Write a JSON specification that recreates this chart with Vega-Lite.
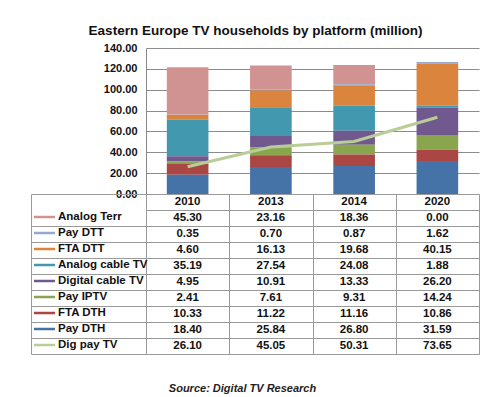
{
  "$schema": "https://vega.github.io/schema/vega-lite/v6.json",
  "background": "white",
  "padding": {"left": 30, "top": 23, "right": 5, "bottom": 2},
  "bounds": "flush",
  "config": {
    "font": "Liberation Sans",
    "view": {"stroke": null},
    "axis": {"labelFont": "Liberation Sans", "titleFont": "Liberation Sans"}
  },
  "data": {
    "values": [
      {"year": "2010", "series": "Analog Terr", "value": 45.30},
      {"year": "2010", "series": "Pay DTT", "value": 0.35},
      {"year": "2010", "series": "FTA DTT", "value": 4.60},
      {"year": "2010", "series": "Analog cable TV", "value": 35.19},
      {"year": "2010", "series": "Digital cable TV", "value": 4.95},
      {"year": "2010", "series": "Pay IPTV", "value": 2.41},
      {"year": "2010", "series": "FTA DTH", "value": 10.33},
      {"year": "2010", "series": "Pay DTH", "value": 18.40},
      {"year": "2010", "series": "Dig pay TV", "value": 26.10},
      {"year": "2013", "series": "Analog Terr", "value": 23.16},
      {"year": "2013", "series": "Pay DTT", "value": 0.70},
      {"year": "2013", "series": "FTA DTT", "value": 16.13},
      {"year": "2013", "series": "Analog cable TV", "value": 27.54},
      {"year": "2013", "series": "Digital cable TV", "value": 10.91},
      {"year": "2013", "series": "Pay IPTV", "value": 7.61},
      {"year": "2013", "series": "FTA DTH", "value": 11.22},
      {"year": "2013", "series": "Pay DTH", "value": 25.84},
      {"year": "2013", "series": "Dig pay TV", "value": 45.05},
      {"year": "2014", "series": "Analog Terr", "value": 18.36},
      {"year": "2014", "series": "Pay DTT", "value": 0.87},
      {"year": "2014", "series": "FTA DTT", "value": 19.68},
      {"year": "2014", "series": "Analog cable TV", "value": 24.08},
      {"year": "2014", "series": "Digital cable TV", "value": 13.33},
      {"year": "2014", "series": "Pay IPTV", "value": 9.31},
      {"year": "2014", "series": "FTA DTH", "value": 11.16},
      {"year": "2014", "series": "Pay DTH", "value": 26.80},
      {"year": "2014", "series": "Dig pay TV", "value": 50.31},
      {"year": "2020", "series": "Analog Terr", "value": 0.00},
      {"year": "2020", "series": "Pay DTT", "value": 1.62},
      {"year": "2020", "series": "FTA DTT", "value": 40.15},
      {"year": "2020", "series": "Analog cable TV", "value": 1.88},
      {"year": "2020", "series": "Digital cable TV", "value": 26.20},
      {"year": "2020", "series": "Pay IPTV", "value": 14.24},
      {"year": "2020", "series": "FTA DTH", "value": 10.86},
      {"year": "2020", "series": "Pay DTH", "value": 31.59},
      {"year": "2020", "series": "Dig pay TV", "value": 73.65}
    ]
  },
  "spacing": 0,
  "vconcat": [
    {
      "width": 333,
      "height": 146,
      "title": {"text": "Eastern Europe TV households by platform (million)", "fontSize": 13.5, "fontWeight": "bold", "color": "#111", "anchor": "middle", "dx": -57, "offset": 5},
      "layer": [
        {
          "transform": [
            {"filter": "datum.series !== 'Dig pay TV'"},
            {"calculate": "indexof(['Pay DTH', 'FTA DTH', 'Pay IPTV', 'Digital cable TV', 'Analog cable TV', 'FTA DTT', 'Pay DTT', 'Analog Terr'], datum.series)", "as": "stackOrder"}
          ],
          "mark": {"type": "bar"},
          "encoding": {
            "x": {"field": "year", "type": "nominal", "axis": null, "scale": {"paddingInner": 0.5, "paddingOuter": 0.25}},
            "y": {"field": "value", "type": "quantitative", "stack": "zero",
              "scale": {"domain": [0, 140], "nice": false},
              "axis": {"values": [0, 20, 40, 60, 80, 100, 120, 140], "tickCount": 8, "format": ".2f", "title": null, "labelOverlap": false, "labelFontWeight": "bold", "labelFontSize": 11, "labelColor": "#111", "ticks": false, "labelPadding": 9, "domainColor": "#888", "gridColor": "#8c8c8c"}},
            "order": {"field": "stackOrder", "type": "quantitative", "sort": "ascending"},
            "color": {"field": "series", "type": "nominal",
              "scale": {"domain": ["Pay DTH", "FTA DTH", "Pay IPTV", "Digital cable TV", "Analog cable TV", "FTA DTT", "Pay DTT", "Analog Terr", "Dig pay TV"],
                "range": ["#4572A7", "#AA4643", "#89A54E", "#71588F", "#4198AF", "#DB843D", "#93A9CF", "#D19392", "#B9CD96"]},
              "legend": {"orient": "none", "legendX": -112, "legendY": 161, "title": null,
                "values": ["Analog Terr", "Pay DTT", "FTA DTT", "Analog cable TV", "Digital cable TV", "Pay IPTV", "FTA DTH", "Pay DTH", "Dig pay TV"],
                "symbolType": "M-1,-0.12H1V0.12H-1Z", "symbolSize": 441, "symbolStrokeWidth": 0, "labelFontSize": 11.5, "labelFontWeight": "bold", "labelColor": "#111", "labelOffset": 3, "rowPadding": 0, "clipHeight": 16}}
          }
        },
        {
          "transform": [{"filter": "datum.series === 'Dig pay TV'"}],
          "mark": {"type": "line", "strokeWidth": 3},
          "encoding": {
            "x": {"field": "year", "type": "nominal"},
            "y": {"field": "value", "type": "quantitative",
              "axis": {"values": [0, 20, 40, 60, 80, 100, 120, 140], "tickCount": 8, "format": ".2f", "title": null, "labelOverlap": false, "labelFontWeight": "bold", "labelFontSize": 11, "labelColor": "#111", "ticks": false, "labelPadding": 9, "domainColor": "#888", "gridColor": "#8c8c8c"}},
            "color": {"field": "series", "type": "nominal"}
          }
        }
      ]
    },
    {
      "width": 333,
      "height": 160,
      "resolve": {"axis": {"y": "independent"}},
      "layer": [
        {
          "mark": {"type": "text", "fontSize": 11.5, "fontWeight": "bold", "color": "#111"},
          "encoding": {
            "x": {"field": "year", "type": "nominal", "scale": {"paddingInner": 0, "paddingOuter": 0},
              "axis": {"orient": "bottom", "labels": false, "ticks": false, "grid": true, "tickBand": "extent", "gridColor": "#9a9a9a", "domainColor": "#9a9a9a",
                "title": "Source: Digital TV Research", "titleFontStyle": "italic", "titleFontWeight": "bold", "titleFontSize": 11, "titleColor": "#222", "titlePadding": 28, "titleX": 96}},
            "y": {"field": "series", "type": "nominal",
              "scale": {"domain": ["hdr", "Analog Terr", "Pay DTT", "FTA DTT", "Analog cable TV", "Digital cable TV", "Pay IPTV", "FTA DTH", "Pay DTH", "Dig pay TV"], "paddingInner": 0, "paddingOuter": 0},
              "axis": {"orient": "left", "labels": false, "ticks": true, "tickSize": 115, "tickBand": "extent",
                "tickColor": {"condition": {"test": "datum.value === 'hdr'", "value": "transparent"}, "value": "#9a9a9a"},
                "grid": true, "gridColor": "#9a9a9a", "domainColor": "#9a9a9a", "title": null}},
            "text": {"field": "value", "type": "quantitative", "format": ".2f"}
          }
        },
        {
          "transform": [{"filter": "datum.series === 'Pay DTH'"}],
          "mark": {"type": "text", "fontSize": 11.5, "fontWeight": "bold", "color": "#111"},
          "encoding": {
            "x": {"field": "year", "type": "nominal"},
            "y": {"datum": "hdr", "type": "nominal",
              "axis": {"orient": "left", "offset": 115, "labels": false, "ticks": false, "grid": false, "domainColor": "#9a9a9a", "title": null}},
            "text": {"field": "year", "type": "nominal"}
          }
        }
      ]
    }
  ]
}
